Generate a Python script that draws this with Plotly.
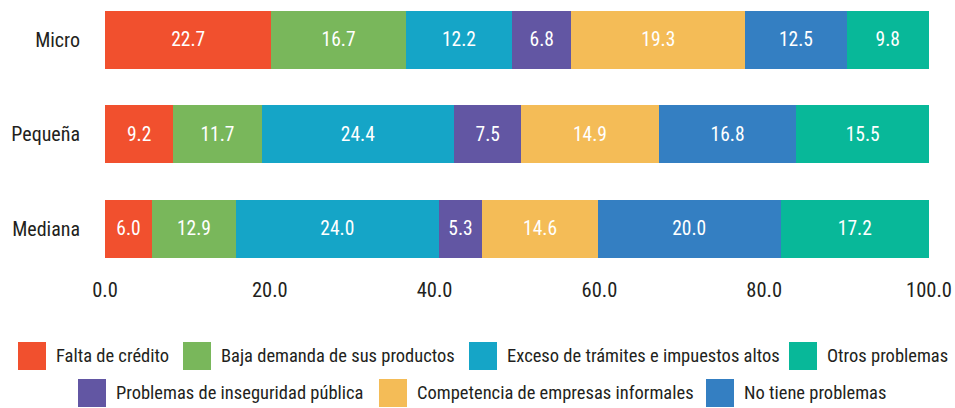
import plotly.graph_objects as go

# ---- data ----
categories = ["Micro", "Pequeña", "Mediana"]
series_names = [
    "Falta de crédito",
    "Baja demanda de sus productos",
    "Exceso de trámites e impuestos altos",
    "Problemas de inseguridad pública",
    "Competencia de empresas informales",
    "No tiene problemas",
    "Otros problemas",
]
series_colors = ["#F1502E", "#79B75B", "#15A5C7", "#6256A3", "#F4BC57", "#347FC2", "#08B899"]

# bar lengths as drawn in the picture (percent)
falta_credito = [20.2, 8.3, 5.7]
baja_demanda = [16.3, 10.7, 10.2]
exceso_tramites = [12.9, 23.4, 24.6]
inseguridad = [7.2, 8.1, 5.3]
competencia = [21.1, 16.7, 14.0]
no_tiene = [12.3, 16.7, 22.2]
otros = [10.0, 16.1, 18.0]

# value labels printed on the bars
lbl_falta_credito = ["22.7", "9.2", "6.0"]
lbl_baja_demanda = ["16.7", "11.7", "12.9"]
lbl_exceso_tramites = ["12.2", "24.4", "24.0"]
lbl_inseguridad = ["6.8", "7.5", "5.3"]
lbl_competencia = ["19.3", "14.9", "14.6"]
lbl_no_tiene = ["12.5", "16.8", "20.0"]
lbl_otros = ["9.8", "15.5", "17.2"]

x_ticks = [0, 20, 40, 60, 80, 100]
x_ticklabels = ["0.0", "20.0", "40.0", "60.0", "80.0", "100.0"]

values = [falta_credito, baja_demanda, exceso_tramites, inseguridad, competencia, no_tiene, otros]
labels = [lbl_falta_credito, lbl_baja_demanda, lbl_exceso_tramites, lbl_inseguridad,
          lbl_competencia, lbl_no_tiene, lbl_otros]

# legend arrangement (indices into series) and swatch left edges in px
legend_rows = [[0, 1, 2, 6], [3, 4, 5]]
legend_lefts = [[18, 183, 469, 789], [78, 379, 706]]
legend_row_centers = [356, 393]

FONT = "Roboto Condensed, DejaVu Sans Condensed, sans-serif"
TXT = "#231F20"

W, H = 955, 408
ML, MR, MT, MB = 105, 26, 5, 133
PW, PH = W - ML - MR, H - MT - MB


def px_x(x):
    return (x - ML) / PW


def px_y(y):
    return (H - MB - y) / PH


fig = go.Figure()
for name, color, vals, lbls in zip(series_names, series_colors, values, labels):
    fig.add_trace(go.Bar(
        y=categories, x=vals, name=name, orientation="h",
        marker=dict(color=color, line=dict(width=0)),
        text=lbls, texttemplate="%{text}", textposition="inside",
        insidetextanchor="middle", constraintext="none", textangle=0,
        textfont=dict(color="white", size=19.5, family=FONT),
        width=0.614, hoverinfo="skip", showlegend=False,
    ))

shapes = []
annotations = []
SW = 28
for row, lefts, yc in zip(legend_rows, legend_lefts, legend_row_centers):
    for idx, left in zip(row, lefts):
        shapes.append(dict(
            type="rect", xref="paper", yref="paper",
            x0=px_x(left), x1=px_x(left + SW),
            y0=px_y(yc - SW / 2), y1=px_y(yc + SW / 2),
            fillcolor=series_colors[idx], line=dict(width=0),
        ))
        annotations.append(dict(
            xref="paper", yref="paper", x=px_x(left + SW + 8), y=px_y(yc),
            xanchor="left", yanchor="middle", showarrow=False,
            text=series_names[idx], font=dict(size=18.5, color=TXT, family=FONT),
        ))

fig.update_layout(
    barmode="stack",
    width=W, height=H,
    margin=dict(l=ML, r=MR, t=MT, b=MB),
    paper_bgcolor="white", plot_bgcolor="white",
    font=dict(family=FONT, color=TXT),
    shapes=shapes, annotations=annotations,
    showlegend=False,
    xaxis=dict(
        range=[0, 100], tickvals=x_ticks, ticktext=x_ticklabels,
        showgrid=False, zeroline=False, showline=False, ticks="",
        automargin=False,
        tickfont=dict(size=20.5, color=TXT, family=FONT),
    ),
    yaxis=dict(
        type="category", categoryorder="array", categoryarray=categories,
        range=[2.487, -0.370], showgrid=False, zeroline=False, showline=False,
        ticks="", ticklabelstandoff=24, automargin=False,
        tickfont=dict(size=20, color=TXT, family=FONT),
    ),
)

fig.write_html(
    "out.html",
    config={"displayModeBar": False},
    post_script="document.body.style.margin='0';document.body.style.overflow='hidden';",
)
